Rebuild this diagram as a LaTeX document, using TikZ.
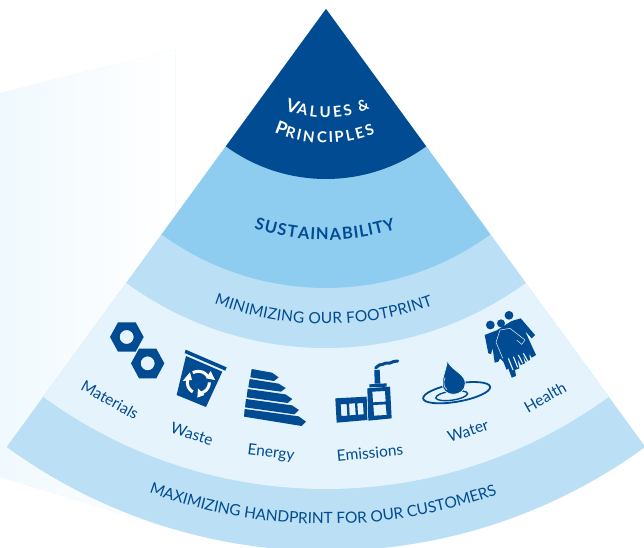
\documentclass[tikz,border=0pt]{standalone}
\usepackage{fontspec}
\setmainfont{Lato}
\usetikzlibrary{decorations.text,arrows.meta,calc}
\definecolor{navy}{RGB}{0,75,145}
\definecolor{bandA}{RGB}{143,205,240}
\definecolor{bandB}{RGB}{187,223,245}
\definecolor{bandC}{RGB}{228,243,252}
\definecolor{haze}{RGB}{240,249,254}
\tikzset{
  lab/.style={text=navy,font=\fontsize{15.5}{18}\selectfont,inner sep=0pt},
  zoomed/.style={x=0.33333pt,y=-0.33333pt},
  initial/.style={text=white,font=\bigb,inner sep=0pt,anchor=base},
  curved/.style n args={3}{decorate,decoration={text effects along path,text={#3},
     text effects/.cd,fit text to path,characters={text=#1,font=#2},text along path}}
}
\newcommand{\sector}[2]{\fill[#1] (apex) -- ++(233.9:#2pt) arc (233.9:306.1:#2pt) -- cycle;}
\newcommand{\bigb}{\bfseries\fontsize{18}{20}\selectfont}
\newcommand{\smallb}{\bfseries\fontsize{15}{18}\selectfont}
\newcommand{\midb}{\bfseries\fontsize{16.5}{18}\selectfont}
\newcommand{\plainb}{\fontsize{15.5}{18}\selectfont}
\begin{document}
\begin{tikzpicture}[x=1pt,y=1pt]
\useasboundingbox (0,0) rectangle (644,547);
\clip (0,0) rectangle (644,547);
\coordinate (apex) at (326,538);
% background haze: overlapping strips fading to white
\foreach \i in {0,...,34}{
  \pgfmathsetmacro{\xa}{\i*5}
  \pgfmathsetmacro{\mixv}{100-\i*100/34}
  \pgfmathsetmacro{\ya}{454+\xa*43/175}
  \pgfmathsetmacro{\yb}{70-\xa*0.3}
  \fill[haze!\mixv!white] (\xa,\ya) -- (175,497) -- (175,17.5) -- (\xa,\yb) -- cycle;
}
% sectors
\sector{bandB}{542}
\sector{bandC}{480}
\sector{bandB}{339}
\sector{bandA}{279}
\sector{navy}{170}
% curved labels
\node[initial,rotate=-19] (initialV) at ($(apex)+(251:109pt)$) {V};
\path[curved={white}{\smallb}{ALUES {\&}}] (apex) ++(254.2:109pt) arc (254.2:293.8:109pt);
\node[initial,rotate=-20.4] (initialP) at ($(apex)+(249.6:134pt)$) {P};
\path[curved={white}{\smallb}{RINCIPLES}] (apex) ++(252:134pt) arc (252:291.5:134pt);
\path[curved={navy}{\midb}{SUSTAINABILITY}] (apex) ++(251.8:231pt) arc (251.8:287.6:231pt);
\path[curved={navy}{\plainb}{MINIMIZING OUR FOOTPRINT}] (apex) ++(249.2:315pt) arc (249.2:289.9:315pt);
\path[curved={navy}{\plainb}{MAXIMIZING HANDPRINT FOR OUR CUSTOMERS}] (apex) ++(249.9:515pt) arc (249.9:289.4:515pt);
% item labels
\node[lab,rotate=-29] (materials) at (110,147) {Materials};
\node[lab,rotate=-17.5] (waste) at (192,113) {Waste};
\node[lab,rotate=-7] (energy) at (271,94) {Energy};
\node[lab,rotate=5.6] (emissions) at (370,94) {Emissions};
\node[lab,rotate=18.6] (water) at (468,116) {Water};
\node[lab,rotate=29.4] (health) at (545,150) {Health};
% nuts and Energy (zoom 1 coordinates)
\begin{scope}[xshift=90pt,yshift=247pt,zoomed]
\fill[navy,even odd rule] (60,111)--(84,67)--(137,67)--(161,111)--(137,155)--(84,155)--cycle (110,111) circle[radius=7pt];
\fill[navy,even odd rule] (123,190)--(147,146)--(199,146)--(223,190)--(199,235)--(147,235)--cycle (173,190) circle[radius=7pt];
\fill[navy] (485,207)--(546,218)--(566,232)--(552,243)--(481,232)--cycle;
\fill[navy] (479,237)--(566,251)--(587,264)--(573,275)--(475,262)--cycle;
\fill[navy] (473,267)--(586,283)--(607,297)--(593,309)--(470,292)--cycle;
\fill[navy] (468,297)--(606,316)--(627,330)--(613,343)--(465,322)--cycle;
\fill[navy] (464,327)--(626,349)--(648,365)--(635,378)--(462,350)--cycle;
\end{scope}
% bin (zoom 6 coordinates)
\begin{scope}[xshift=170pt,yshift=202pt,zoomed]
\fill[navy] (47,14)--(170,67)--(166,77)--(44,24)--cycle;
\fill[navy] (48,33)--(157,80)--(108,186)--(20,150)--cycle;
\draw[white,line width=3pt] plot[domain=-120:-30,samples=12] ({85+33*cos(\x)},{112+33*sin(\x)});
\draw[white,line width=3pt] plot[domain=0:90,samples=12] ({85+33*cos(\x)},{112+33*sin(\x)});
\draw[white,line width=3pt] plot[domain=120:205,samples=12] ({85+33*cos(\x)},{112+33*sin(\x)});
\fill[white] (122,78)--(135,105)--(108,100)--cycle;
\fill[white] (84,130)--(82,158)--(103,150)--cycle;
\fill[white] (38,108)--(60,82)--(66,105)--cycle;
\end{scope}
% factory (zoom 7 coordinates)
\begin{scope}[xshift=330pt,yshift=192pt,zoomed]
\fill[navy,even odd rule] (16,130)--(110,125)--(112,195)--(20,203)--cycle
 (32,148)--(50,147)--(52,182)--(34,183)--cycle
 (57,146)--(75,145)--(77,180)--(59,181)--cycle
 (82,145)--(99,144)--(101,178)--(84,179)--cycle;
\fill[navy,even odd rule] (112,100)--(180,95)--(185,190)--(115,197)--cycle
 (127,110)--(165,108)--(167,140)--(129,142)--cycle
 (130,150)--(167,148)--(170,180)--(132,182)--cycle;
\fill[navy] (118,88)--(170,85)--(170,95)--(118,97)--cycle;
\fill[navy] (133,45)--(149,44)--(151,86)--(134,86)--cycle;
\draw[navy,line width=3pt,line cap=round] plot[smooth] coordinates {(137,39)(148,30)(158,28)(168,24)(180,24)(190,20)(203,18)};
\end{scope}
% water (zoom 8 coordinates)
\begin{scope}[xshift=415pt,yshift=192pt,zoomed]
\draw[navy,line width=1.8pt] (125,113) ellipse[x radius=34pt,y radius=9pt,rotate=10];
\draw[navy,line width=1.4pt] (110,122) ellipse[x radius=16pt,y radius=4.5pt,rotate=8];
\fill[navy,draw=bandC,line width=0.8pt] (97,15) .. controls (105,45) and (151,55) .. (151,85) .. controls (151,106) and (134,118) .. (115,118) .. controls (96,118) and (82,106) .. (82,88) .. controls (82,65) and (95,40) .. (97,15) -- cycle;
\draw[bandC,line width=0.6pt] (90,68) .. controls (83,85) and (87,97) .. (96,104);
\end{scope}
% family (zoom 5 coordinates)
\begin{scope}[xshift=480pt,yshift=242pt,zoomed]
\fill[navy] (87,31) circle[radius=4.4pt];
\fill[navy] (31,60) circle[radius=4.4pt];
\fill[navy] (63,55) circle[radius=4pt];
\fill[navy] (14,90)--(50,76)--(95,48)--(122,40)--(165,90)--(155,100)--(135,78)--(168,150)--(155,158)--(148,146)--(150,165)--(138,170)--(128,150)--(135,175)--(122,180)--(112,160)--(118,190)--(105,195)--(108,213)--(95,218)--(85,190)--(80,195)--(70,170)--(60,160)--(55,170)--(44,173)--(38,130)--(33,147)--(25,145)--cycle;
\draw[bandC,line width=0.5pt] (60,75)--(48,112)--(58,135)--(68,160);
\draw[bandC,line width=0.5pt] (60,75)--(90,70)--(135,105)--(125,118)--(110,105);
\draw[bandC,line width=1.1pt] (85,160)--(99,195);
\draw[bandC,line width=1.1pt] (100,155)--(113,187);
\draw[bandC,line width=1.1pt] (115,150)--(128,175);
\draw[bandC,line width=1.1pt] (130,145)--(143,168);
\end{scope}
\end{tikzpicture}
\end{document}
